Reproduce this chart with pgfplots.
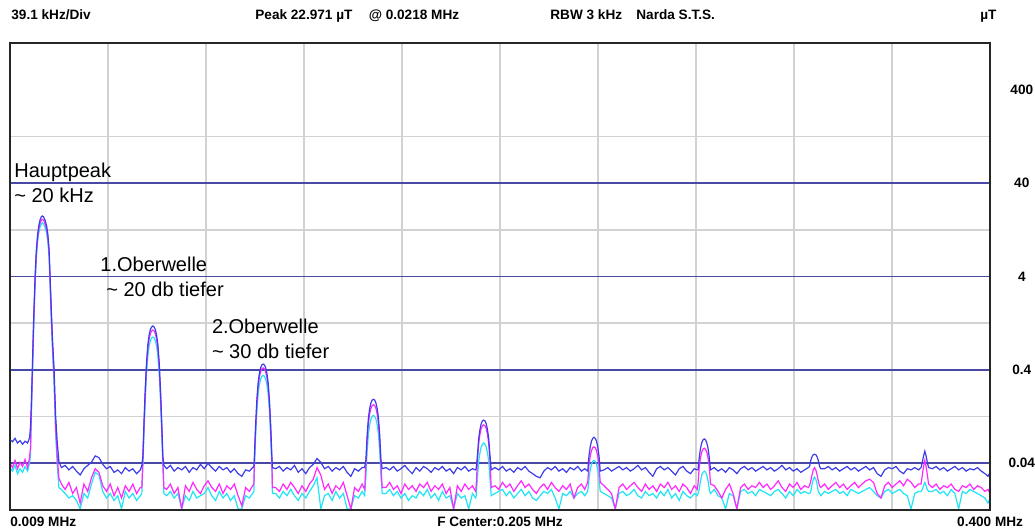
\documentclass[border=0pt]{standalone}
\usepackage{pgfplots}
\pgfplotsset{compat=1.18}
\usepackage{pgfplotstable}
\usepackage{fontspec}
\setmainfont{Liberation Sans}
\newcommand\hdr{\fontsize{6.8}{8}\selectfont\bfseries}
\newcommand\ann{\fontsize{10}{12}\selectfont}
\definecolor{tblue}{RGB}{60,60,235}
\definecolor{tmag}{RGB}{255,40,255}
\definecolor{tcyan}{RGB}{30,228,245}
\definecolor{gblue}{RGB}{72,72,165}
\definecolor{ggray}{RGB}{210,210,210}
\pgfplotstableread{
f B M C
9.0 0.072 0.040 0.036
10.0 0.068 0.036 0.033
11.0 0.074 0.043 0.038
12.0 0.066 0.035 0.031
13.0 0.070 0.041 0.035
14.0 0.064 0.037 0.032
15.0 0.069 0.044 0.037
16.0 0.066 0.036 0.033
16.8 0.075 0.046 0.040
17.2 0.10 0.06 0.05
17.5 0.17 0.14 0.12
17.9 0.40 0.35 0.30
18.4 1.3 1.15 1.0
19.0 4.0 3.6 3.2
19.5 7.6 6.9 6.2
20.0 11.2 10.2 9.3
20.5 14.0 12.9 11.8
21.0 16.2 14.9 13.6
21.5 17.4 16.0 14.6
21.9 17.8 16.4 15.0
22.4 17.4 16.0 14.6
23.0 16.0 14.7 13.4
23.6 14.0 12.8 11.6
24.1 11.4 10.4 9.4
24.6 7.8 7.1 6.4
25.0 4.0 3.6 3.2
25.5 1.7 1.5 1.3
26.0 0.80 0.70 0.60
26.6 0.40 0.33 0.28
27.2 0.13 0.10 0.085
27.8 0.07 0.05 0.04
28.5 0.042 0.028 0.022
29.5 0.036 0.024 0.021
31.0 0.038 0.021 0.019
32.5 0.034 0.025 0.017
34.0 0.037 0.019 0.018
35.5 0.033 0.022 0.016
37.0 0.030 0.015 0.013
38.5 0.035 0.024 0.019
40.0 0.038 0.020 0.017
41.5 0.041 0.028 0.024
43.0 0.048 0.035 0.032
44.5 0.046 0.032 0.030
46.0 0.039 0.023 0.020
47.5 0.035 0.020 0.017
49.0 0.037 0.024 0.019
50.5 0.032 0.018 0.016
52.0 0.034 0.022 0.018
53.5 0.031 0.017 0.013
55.0 0.036 0.023 0.020
56.5 0.033 0.020 0.017
58.0 0.035 0.024 0.019
59.5 0.031 0.019 0.016
61.0 0.034 0.022 0.018
61.6 0.038 0.022 0.019
62.0 0.047 0.0427 0.036
62.5 0.118 0.107 0.090
63.0 0.264 0.239 0.201
63.5 0.492 0.446 0.375
64.0 0.745 0.675 0.568
64.5 0.94 0.85 0.715
65.0 1.08 0.975 0.82
65.5 1.15 1.045 0.88
66.0 1.18 1.07 0.90
66.5 1.15 1.045 0.88
67.0 1.08 0.975 0.82
67.5 0.94 0.85 0.715
68.0 0.745 0.675 0.568
68.5 0.492 0.446 0.375
69.0 0.264 0.239 0.201
69.5 0.118 0.107 0.090
70.0 0.047 0.0427 0.036
70.4 0.038 0.022 0.019
71.5 0.035 0.021 0.018
73.0 0.038 0.024 0.020
74.5 0.033 0.019 0.017
76.0 0.036 0.022 0.019
77.5 0.034 0.013 0.013
79.0 0.037 0.023 0.018
80.5 0.032 0.020 0.016
82.0 0.036 0.025 0.020
83.5 0.034 0.021 0.017
85.0 0.039 0.019 0.018
86.5 0.035 0.023 0.019
88.0 0.040 0.026 0.022
89.5 0.036 0.022 0.018
91.0 0.033 0.020 0.016
92.5 0.037 0.024 0.020
94.0 0.034 0.019 0.017
95.5 0.036 0.023 0.019
97.0 0.032 0.021 0.016
98.5 0.035 0.024 0.018
100.0 0.031 0.018 0.013
101.5 0.029 0.014 0.013
103.0 0.034 0.022 0.018
104.5 0.033 0.020 0.017
105.8 0.036 0.023 0.019
106.3 0.037 0.024 0.020
106.5 0.046 0.042 0.035
107.0 0.1035 0.094 0.078
107.5 0.193 0.175 0.146
108.0 0.292 0.265 0.221
108.5 0.367 0.333 0.278
109.0 0.422 0.383 0.319
109.5 0.452 0.41 0.342
110.0 0.462 0.42 0.35
110.5 0.452 0.41 0.342
111.0 0.422 0.383 0.319
111.5 0.367 0.333 0.278
112.0 0.292 0.265 0.221
112.5 0.193 0.175 0.146
113.0 0.1035 0.094 0.078
113.5 0.046 0.042 0.035
113.7 0.036 0.022 0.019
115.0 0.035 0.022 0.019
116.5 0.037 0.020 0.017
118.0 0.033 0.024 0.020
119.5 0.036 0.021 0.018
121.0 0.034 0.025 0.021
122.5 0.038 0.022 0.018
124.0 0.032 0.019 0.016
125.5 0.035 0.023 0.019
127.0 0.031 0.020 0.017
128.5 0.036 0.024 0.020
130.0 0.039 0.027 0.023
131.5 0.045 0.036 0.028
133.0 0.041 0.030 0.013
134.5 0.035 0.021 0.018
136.0 0.037 0.024 0.019
137.5 0.033 0.019 0.016
139.0 0.036 0.023 0.020
140.5 0.034 0.021 0.017
142.0 0.037 0.025 0.019
143.5 0.032 0.018 0.013
145.0 0.029 0.013 0.013
146.5 0.035 0.022 0.018
148.0 0.033 0.020 0.017
149.5 0.036 0.024 0.020
150.5 0.036 0.021 0.018
151.0 0.0435 0.038 0.029
151.5 0.081 0.071 0.054
152.0 0.1225 0.107 0.082
152.5 0.154 0.135 0.103
153.0 0.177 0.155 0.119
153.5 0.190 0.166 0.127
154.0 0.194 0.17 0.13
154.5 0.190 0.166 0.127
155.0 0.177 0.155 0.119
155.5 0.154 0.135 0.103
156.0 0.1225 0.107 0.082
156.5 0.081 0.071 0.054
157.0 0.0435 0.038 0.029
157.5 0.035 0.022 0.019
159.0 0.036 0.022 0.019
160.5 0.034 0.025 0.021
162.0 0.037 0.021 0.018
163.5 0.033 0.023 0.020
165.0 0.035 0.019 0.017
166.5 0.038 0.024 0.019
168.0 0.034 0.021 0.016
169.5 0.031 0.023 0.018
171.0 0.036 0.020 0.017
172.5 0.033 0.024 0.020
174.0 0.037 0.022 0.018
175.5 0.035 0.025 0.021
177.0 0.032 0.020 0.017
178.5 0.036 0.023 0.019
180.0 0.034 0.021 0.016
181.5 0.037 0.024 0.020
183.0 0.033 0.019 0.017
184.5 0.035 0.022 0.018
186.0 0.031 0.013 0.013
187.5 0.036 0.023 0.019
189.0 0.034 0.020 0.017
190.5 0.037 0.024 0.018
192.0 0.033 0.021 0.013
193.5 0.035 0.023 0.019
194.8 0.034 0.020 0.017
195.0 0.035 0.023 0.018
195.5 0.0485 0.043 0.0275
196.0 0.0735 0.065 0.042
196.5 0.092 0.082 0.052
197.0 0.106 0.094 0.060
197.5 0.114 0.101 0.064
198.0 0.116 0.103 0.066
198.5 0.114 0.101 0.064
199.0 0.106 0.094 0.060
199.5 0.092 0.082 0.052
200.0 0.0735 0.065 0.042
200.5 0.0485 0.043 0.0275
201.0 0.034 0.022 0.018
202.5 0.036 0.023 0.019
204.0 0.034 0.021 0.020
205.5 0.037 0.025 0.021
207.0 0.033 0.022 0.018
208.5 0.035 0.024 0.020
210.0 0.032 0.020 0.017
211.5 0.036 0.023 0.019
213.0 0.034 0.026 0.021
214.5 0.037 0.022 0.018
216.0 0.033 0.024 0.020
217.5 0.031 0.021 0.017
219.0 0.029 0.019 0.016
220.5 0.028 0.022 0.018
222.0 0.033 0.024 0.020
223.5 0.036 0.021 0.019
225.0 0.034 0.025 0.021
226.5 0.037 0.022 0.017
228.0 0.033 0.020 0.013
229.5 0.035 0.023 0.019
231.0 0.032 0.021 0.018
232.5 0.036 0.024 0.020
234.0 0.034 0.017 0.017
235.5 0.037 0.022 0.019
237.0 0.033 0.024 0.020
238.3 0.035 0.021 0.018
239.5 0.033 0.025 0.020
240.0 0.048 0.038 0.027
240.5 0.060 0.0477 0.034
241.0 0.069 0.0547 0.039
241.5 0.074 0.0587 0.042
242.0 0.076 0.060 0.043
242.5 0.074 0.0587 0.042
243.0 0.069 0.0547 0.039
243.5 0.060 0.0477 0.034
244.0 0.048 0.038 0.027
244.5 0.033 0.025 0.020
246.0 0.034 0.023 0.019
247.5 0.036 0.021 0.018
249.0 0.033 0.019 0.017
250.5 0.035 0.013 0.013
252.0 0.037 0.022 0.019
253.5 0.034 0.024 0.020
255.0 0.036 0.021 0.018
256.5 0.033 0.023 0.019
258.0 0.035 0.025 0.021
259.5 0.038 0.022 0.018
261.0 0.034 0.020 0.017
262.5 0.036 0.024 0.020
264.0 0.032 0.021 0.018
265.5 0.029 0.023 0.019
267.0 0.035 0.020 0.017
268.5 0.037 0.024 0.020
270.0 0.034 0.022 0.018
271.5 0.036 0.025 0.021
273.0 0.033 0.021 0.017
274.5 0.030 0.023 0.019
276.0 0.035 0.020 0.016
277.5 0.037 0.024 0.020
279.0 0.033 0.022 0.018
280.5 0.031 0.019 0.017
282.0 0.035 0.023 0.019
283.2 0.034 0.021 0.018
283.5 0.034 0.024 0.019
284.0 0.046 0.0366 0.021
284.5 0.058 0.046 0.026
285.0 0.0665 0.0529 0.030
285.5 0.0713 0.0567 0.032
286.0 0.073 0.058 0.033
286.5 0.0713 0.0567 0.032
287.0 0.0665 0.0529 0.030
287.5 0.058 0.046 0.026
288.0 0.046 0.0366 0.021
288.5 0.034 0.024 0.019
290.0 0.036 0.023 0.021
291.5 0.033 0.020 0.018
293.0 0.035 0.017 0.017
294.5 0.032 0.021 0.013
296.0 0.036 0.024 0.019
297.5 0.034 0.019 0.018
299.0 0.031 0.013 0.013
300.5 0.035 0.022 0.020
302.0 0.037 0.024 0.021
303.5 0.034 0.021 0.019
305.0 0.036 0.023 0.020
306.5 0.033 0.022 0.018
308.0 0.035 0.025 0.021
309.5 0.037 0.022 0.020
311.0 0.034 0.024 0.019
312.5 0.036 0.021 0.018
314.0 0.033 0.023 0.020
315.5 0.035 0.026 0.021
317.0 0.038 0.022 0.019
318.5 0.034 0.020 0.017
320.0 0.036 0.024 0.020
321.5 0.033 0.022 0.018
323.0 0.035 0.025 0.021
324.5 0.032 0.021 0.019
326.0 0.034 0.023 0.020
327.5 0.036 0.022 0.019
328.0 0.037 0.023 0.019
328.5 0.043 0.026 0.020
329.0 0.047 0.030 0.024
329.5 0.0495 0.034 0.027
330.0 0.050 0.036 0.0285
330.5 0.0495 0.034 0.027
331.0 0.047 0.030 0.024
331.5 0.043 0.026 0.020
332.0 0.037 0.023 0.019
332.5 0.035 0.022 0.018
334.0 0.035 0.024 0.020
335.5 0.037 0.021 0.019
337.0 0.034 0.023 0.020
338.5 0.036 0.025 0.021
340.0 0.033 0.022 0.019
341.5 0.035 0.024 0.020
343.0 0.037 0.021 0.018
344.5 0.034 0.023 0.021
346.0 0.036 0.025 0.020
347.5 0.033 0.022 0.019
349.0 0.035 0.024 0.020
350.5 0.037 0.026 0.021
352.0 0.034 0.027 0.022
353.5 0.036 0.025 0.020
355.0 0.031 0.019 0.018
356.5 0.029 0.017 0.017
358.0 0.034 0.023 0.020
359.5 0.036 0.025 0.021
361.0 0.035 0.022 0.019
362.5 0.037 0.024 0.020
364.0 0.033 0.026 0.021
365.5 0.031 0.023 0.019
367.0 0.035 0.027 0.018
368.5 0.034 0.025 0.013
370.0 0.036 0.022 0.019
371.5 0.034 0.024 0.020
372.5 0.036 0.024 0.020
373.0 0.041 0.030 0.021
373.5 0.048 0.037 0.023
374.0 0.054 0.043 0.025
374.5 0.048 0.037 0.023
375.0 0.041 0.030 0.021
375.5 0.036 0.024 0.020
377.0 0.035 0.022 0.020
378.5 0.037 0.024 0.021
380.0 0.034 0.021 0.019
381.5 0.036 0.023 0.020
383.0 0.033 0.022 0.018
384.5 0.035 0.024 0.021
386.0 0.037 0.021 0.019
387.5 0.034 0.020 0.013
389.0 0.036 0.023 0.020
390.5 0.033 0.022 0.019
392.0 0.035 0.024 0.021
393.5 0.034 0.021 0.020
395.0 0.036 0.023 0.019
396.5 0.033 0.022 0.018
398.0 0.031 0.020 0.017
399.2 0.029 0.021 0.015
400.0 0.032 0.019 0.017
}\spec
\begin{document}
\begin{tikzpicture}
\useasboundingbox (-5pt,-10pt) rectangle (512.5pt,255pt);
\begin{axis}[
  scale only axis, width=490pt, height=233.5pt,
  at={(0,0)}, anchor=south west,
  xmin=9, xmax=400, ymode=log, ymin=0.012649, ymax=1264.9,
  xtick=\empty,
  ytick={0.04,0.4,4,40,400}, yticklabels={0.04,0.4,4,40,400},
  yminorticks=false,
  yticklabel pos=right,
  yticklabel style={font=\hdr, anchor=center, xshift=15.9pt},
  major tick length=0pt, minor tick length=0pt,
  axis line style={line width=1pt, black!85},
  axis on top,
]
\draw[ggray, line width=0.8pt] (axis cs:48.1,0.012649) -- (axis cs:48.1,1264.9);
\draw[ggray, line width=0.8pt] (axis cs:87.2,0.012649) -- (axis cs:87.2,1264.9);
\draw[ggray, line width=0.8pt] (axis cs:126.3,0.012649) -- (axis cs:126.3,1264.9);
\draw[ggray, line width=0.8pt] (axis cs:165.4,0.012649) -- (axis cs:165.4,1264.9);
\draw[ggray, line width=0.8pt] (axis cs:204.5,0.012649) -- (axis cs:204.5,1264.9);
\draw[ggray, line width=0.8pt] (axis cs:243.6,0.012649) -- (axis cs:243.6,1264.9);
\draw[ggray, line width=0.8pt] (axis cs:282.7,0.012649) -- (axis cs:282.7,1264.9);
\draw[ggray, line width=0.8pt] (axis cs:321.8,0.012649) -- (axis cs:321.8,1264.9);
\draw[ggray, line width=0.8pt] (axis cs:360.9,0.012649) -- (axis cs:360.9,1264.9);
\draw[ggray, line width=0.8pt] (axis cs:9,0.12649) -- (axis cs:400,0.12649);
\draw[ggray, line width=0.8pt] (axis cs:9,1.2649) -- (axis cs:400,1.2649);
\draw[ggray, line width=0.8pt] (axis cs:9,12.649) -- (axis cs:400,12.649);
\draw[ggray, line width=0.8pt] (axis cs:9,126.49) -- (axis cs:400,126.49);
\draw[gblue, line width=0.85pt] (axis cs:9,0.04) -- (axis cs:400,0.04);
\draw[gblue, line width=0.85pt] (axis cs:9,0.4) -- (axis cs:400,0.4);
\draw[gblue, line width=0.85pt] (axis cs:9,4) -- (axis cs:400,4);
\draw[gblue, line width=0.85pt] (axis cs:9,40) -- (axis cs:400,40);
\addplot[tcyan, line width=0.6pt, mark=none] table[x=f, y=C] {\spec};
\addplot[tmag, line width=0.6pt, mark=none] table[x=f, y=M] {\spec};
\addplot[tblue, line width=0.6pt, mark=none] table[x=f, y=B] {\spec};
\end{axis}
\node[anchor=base west, font=\hdr, inner sep=0pt] at (0.5pt,245.3pt) {39.1 kHz/Div};
\node[anchor=base west, font=\hdr, inner sep=0pt] at (122.5pt,245.3pt) {Peak 22.971 µT};
\node[anchor=base west, font=\hdr, inner sep=0pt] at (179.2pt,245.3pt) {@ 0.0218 MHz};
\node[anchor=base west, font=\hdr, inner sep=0pt] at (270pt,245.3pt) {RBW 3 kHz};
\node[anchor=base west, font=\hdr, inner sep=0pt] at (313pt,245.3pt) {Narda S.T.S.};
\node[anchor=base west, font=\hdr, inner sep=0pt] at (485pt,245.3pt) {µT};
\node[anchor=base west, font=\hdr, inner sep=0pt] at (0pt,-8.25pt) {0.009 MHz};
\node[anchor=base, font=\hdr, inner sep=0pt] at (245pt,-8.25pt) {F Center:0.205 MHz};
\node[anchor=base east, font=\hdr, inner sep=0pt] at (506.7pt,-8.25pt) {0.400 MHz};
\node[anchor=base west, font=\ann, inner sep=0pt] at (2pt,166.2pt) {Hauptpeak};
\node[anchor=base west, font=\ann, inner sep=0pt] at (2pt,153.7pt) {\textasciitilde{} 20 kHz};
\node[anchor=base west, font=\ann, inner sep=0pt] at (45pt,119.2pt) {1.Oberwelle};
\node[anchor=base west, font=\ann, inner sep=0pt] at (48pt,106.7pt) {\textasciitilde{} 20 db tiefer};
\node[anchor=base west, font=\ann, inner sep=0pt] at (100.8pt,88.3pt) {2.Oberwelle};
\node[anchor=base west, font=\ann, inner sep=0pt] at (100.8pt,75.8pt) {\textasciitilde{} 30 db tiefer};
\end{tikzpicture}
\end{document}
